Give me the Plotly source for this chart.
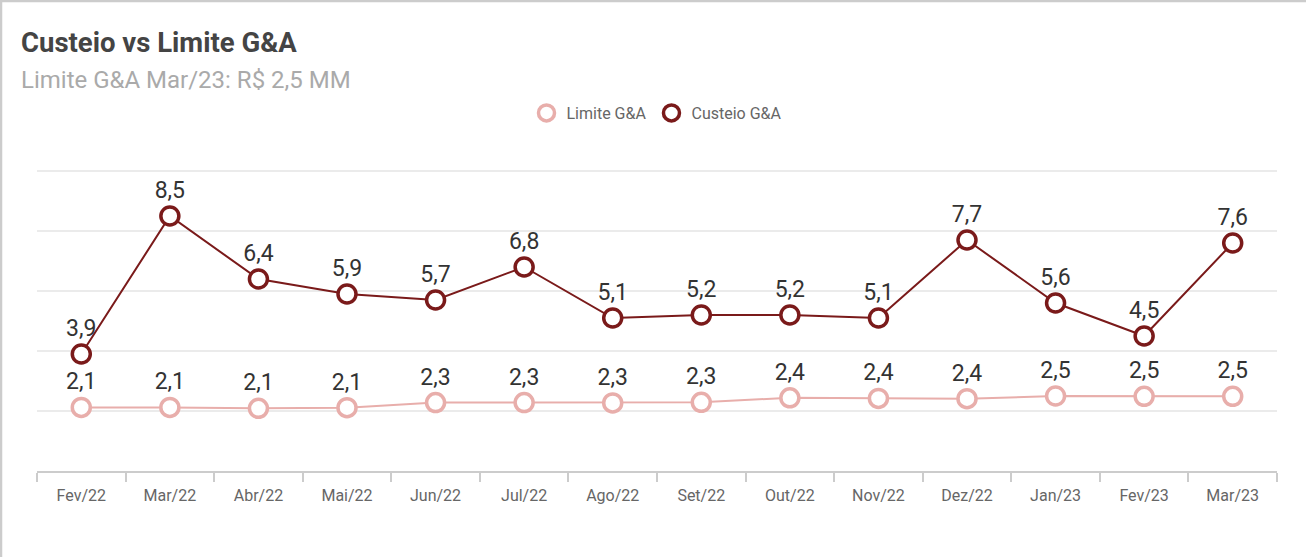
import plotly.graph_objects as go

months = ["Fev/22", "Mar/22", "Abr/22", "Mai/22", "Jun/22", "Jul/22", "Ago/22",
          "Set/22", "Out/22", "Nov/22", "Dez/22", "Jan/23", "Fev/23", "Mar/23"]
limite = [2.12, 2.12, 2.09, 2.11, 2.28, 2.28, 2.27, 2.29, 2.44, 2.42, 2.41, 2.50, 2.49, 2.49]
custeio = [3.9, 8.5, 6.4, 5.9, 5.7, 6.8, 5.1, 5.2, 5.2, 5.1, 7.7, 5.6, 4.5, 7.6]

title_text = "Custeio vs Limite G&A"
subtitle_text = "Limite G&A Mar/23: R$ 2,5 MM"

W, H = 1306, 557
ML, MR, MT, MB = 37, 29, 165, 86
PW, PH = W - ML - MR, H - MT - MB

def px_x(p):
    return (p - ML) / PW

def px_y(p):
    return (H - MB - p) / PH

FONT = "Roboto"
c_dark = "#7a1a1a"
c_pink = "#e8aeab"

fig = go.Figure()
series = [("Limite G&A", limite, c_pink), ("Custeio G&A", custeio, c_dark)]
for name, vals, col in series:
    fig.add_trace(go.Scatter(
        x=months, y=vals, name=name, mode="lines+markers+text", showlegend=False,
        line=dict(color=col, width=2),
        marker=dict(symbol="circle", size=18, color="white", line=dict(color=col, width=3.5)),
        texttemplate="%{y:.1f}", textposition="top center",
        textfont=dict(size=23, color="#333333", family=FONT),
        cliponaxis=False, hoverinfo="x+y",
    ))
for name, vals, col in series:
    fig.add_trace(go.Scatter(
        x=[None], y=[None], name=name, mode="markers", showlegend=True,
        marker=dict(symbol="circle", size=16, color="white", line=dict(color=col, width=3.5)),
    ))

fig.update_layout(
    width=W, height=H,
    margin=dict(l=ML, r=MR, t=MT, b=MB),
    paper_bgcolor="white", plot_bgcolor="white",
    separators=",.",
    font=dict(family=FONT, color="#666666"),
    showlegend=True,
    legend=dict(orientation="h", x=0.5, xanchor="center", y=px_y(113), yanchor="middle",
                font=dict(size=16, color="#666666", family=FONT),
                itemwidth=30, tracegroupgap=0),
    xaxis=dict(
        type="category", showline=True, linecolor="#cccccc", linewidth=1.5,
        ticks="outside", tickson="boundaries", ticklen=9, tickcolor="#cccccc", tickwidth=1.5,
        tickfont=dict(size=16, color="#666666", family=FONT), showgrid=False,
        ticklabelstandoff=9,
        range=[-0.5, len(months) - 0.5],
    ),
    yaxis=dict(
        range=[0, 10.2], tickvals=[0, 2, 4, 6, 8, 10], showticklabels=False,
        gridcolor="#ebebeb", gridwidth=1.5, zeroline=False, showline=False,
    ),
    annotations=[
        dict(text="<b>" + title_text + "</b>", xref="paper", yref="paper",
             x=px_x(19), y=px_y(42), xanchor="left", yanchor="middle", showarrow=False,
             font=dict(size=27.5, color="#444444", family=FONT)),
        dict(text=subtitle_text, xref="paper", yref="paper",
             x=px_x(19), y=px_y(80), xanchor="left", yanchor="middle", showarrow=False,
             font=dict(size=24, color="#aaaaaa", family=FONT)),
    ],
    shapes=[
        dict(type="line", xref="paper", yref="paper", x0=px_x(0), x1=px_x(W), y0=px_y(1), y1=px_y(1),
             line=dict(color="#cccccc", width=2.5)),
        dict(type="line", xref="paper", yref="paper", x0=px_x(1), x1=px_x(1), y0=px_y(0), y1=px_y(H),
             line=dict(color="#cccccc", width=2.5)),
    ],
)

fig.write_html("out.html", config={"displayModeBar": False},
               post_script="document.body.style.margin='0';document.body.style.padding='0';")
